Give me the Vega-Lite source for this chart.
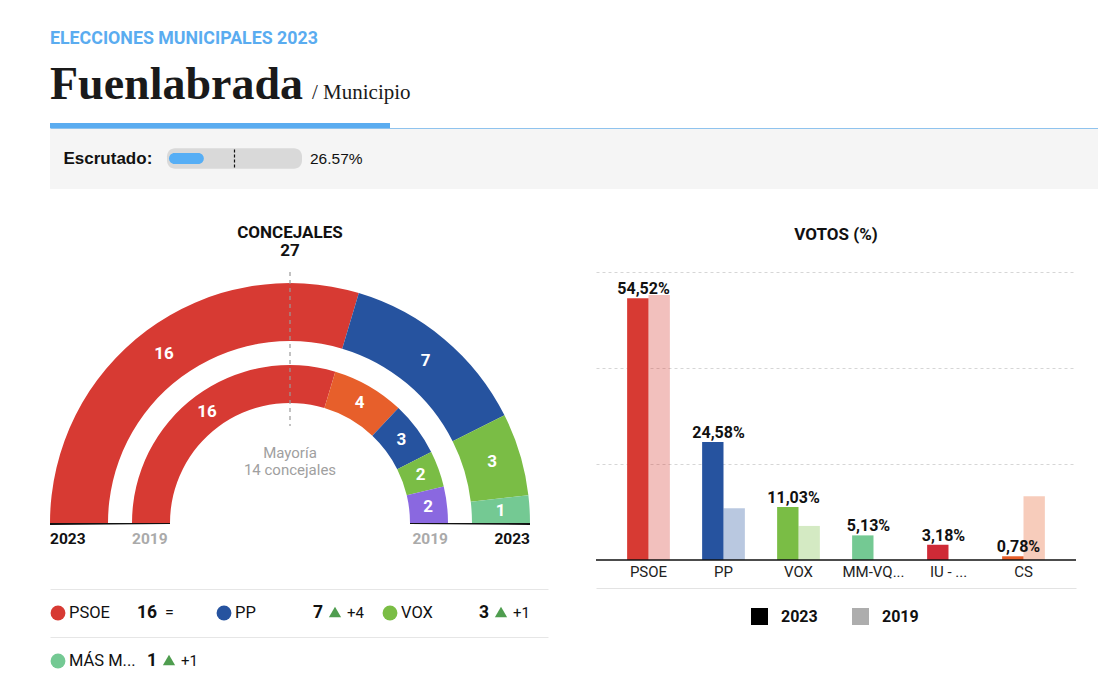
{
  "$schema": "https://vega.github.io/schema/vega-lite/v6.json",
  "background": "#ffffff",
  "padding": {"left": 50, "top": 30, "right": 0, "bottom": 0},
  "config": {
    "view": {"stroke": null},
    "font": "Roboto",
    "axis": {"labelFont": "Roboto", "titleFont": "Roboto"},
    "legend": {"labelFont": "Roboto", "titleFont": "Roboto"},
    "title": {"font": "Roboto", "subtitleFont": "Roboto"}
  },
  "datasets": {
    "seats2023": [
      {"party": "PSOE", "seats": 16, "ord": 1},
      {"party": "PP", "seats": 7, "ord": 2},
      {"party": "VOX", "seats": 3, "ord": 3},
      {"party": "MÁS MADRID", "seats": 1, "ord": 4}
    ],
    "seats2019": [
      {"party": "PSOE", "seats": 16, "ord": 1},
      {"party": "CS", "seats": 4, "ord": 2},
      {"party": "PP", "seats": 3, "ord": 3},
      {"party": "VOX", "seats": 2, "ord": 4},
      {"party": "PODEMOS", "seats": 2, "ord": 5}
    ],
    "years": [{"year": "2023"}, {"year": "2019"}],
    "majority": [{"half": 13.5, "label": "Mayoría\n14 concejales"}],
    "legendRows": [
      {"party": "PSOE", "seats": 16, "change": 0},
      {"party": "PP", "seats": 7, "change": 4},
      {"party": "VOX", "seats": 3, "change": 1},
      {"party": "MÁS MADRID", "seats": 1, "change": 1}
    ],
    "votes": [
      {"party": "PSOE", "year": "2023", "v": 54.52},
      {"party": "PSOE", "year": "2019", "v": 55.2},
      {"party": "PP", "year": "2023", "v": 24.58},
      {"party": "PP", "year": "2019", "v": 10.8},
      {"party": "VOX", "year": "2023", "v": 11.03},
      {"party": "VOX", "year": "2019", "v": 7.1},
      {"party": "MM-VQ...", "year": "2023", "v": 5.13},
      {"party": "IU - ...", "year": "2023", "v": 3.18},
      {"party": "CS", "year": "2023", "v": 0.78},
      {"party": "CS", "year": "2019", "v": 13.3}
    ]
  },
  "title": {"text": "ELECCIONES MUNICIPALES 2023", "anchor": "start", "color": "#5aacf0", "fontSize": 17.8, "fontWeight": "bold", "offset": 14},
  "spacing": 34,
  "vconcat": [
    {
      "spacing": 0,
      "vconcat": [
        {
          "spacing": 0,
          "bounds": "flush",
          "hconcat": [
            {
              "width": 262, "height": 5,
              "title": {"text": "Fuenlabrada", "font": "Liberation Serif", "fontSize": 46, "fontWeight": "bold", "color": "#1a1a1a", "anchor": "start", "baseline": "alphabetic", "offset": -22},
              "view": {"fill": "#5aacf0", "stroke": null},
              "data": {"values": []},
              "mark": "rule",
              "encoding": {}
            },
            {
              "width": 78, "height": 5,
              "title": {"text": "/ Municipio", "font": "Liberation Serif", "fontSize": 21, "fontWeight": "normal", "color": "#1a1a1a", "anchor": "start", "baseline": "alphabetic", "offset": 3},
              "view": {"fill": "#5aacf0", "stroke": null},
              "data": {"values": []},
              "mark": "rule",
              "encoding": {}
            }
          ]
        },
        {
          "width": 1048, "height": 61,
          "view": {"fill": "#f5f5f5", "stroke": null},
          "data": {"values": [{"label": "Escrutado:", "pct": 0.2657, "total": 1}]},
          "resolve": {"scale": {"y": "independent"}, "axis": {"y": "independent"}},
          "layer": [
            {
              "mark": {"type": "bar", "color": "#d9d9d9", "cornerRadius": 8, "xOffset": 2, "x2Offset": -2},
              "encoding": {
                "y": {"field": "label", "type": "nominal", "scale": {"paddingInner": 0, "paddingOuter": 1.2},
                  "axis": {"orient": "left", "title": null, "ticks": false, "domain": false, "labelAlign": "left", "labelPadding": -13, "labelFont": "Liberation Sans", "labelFontSize": 17, "labelFontWeight": "bold", "labelColor": "#111"}},
                "x": {"field": "total", "type": "quantitative", "scale": {"domain": [-0.9084, 7.0916], "nice": false, "zero": false},
                  "axis": {"orient": "top", "domain": true, "domainColor": "#8fc3ee", "domainWidth": 1, "labels": false, "ticks": false, "grid": false, "title": null}},
                "x2": {"datum": 0}
              }
            },
            {
              "mark": {"type": "bar", "color": "#56aef5", "cornerRadius": 5.5, "size": 11},
              "encoding": {"y": {"field": "label", "type": "nominal", "axis": null}, "x": {"field": "pct", "type": "quantitative"}, "x2": {"datum": 0}}
            },
            {
              "mark": {"type": "rule", "color": "#111", "strokeDash": [3, 2], "strokeWidth": 1.2},
              "encoding": {
                "x": {"datum": 0.5, "type": "quantitative"},
                "y": {"field": "total", "type": "quantitative", "scale": {"domain": [-1.194, 2.194], "nice": false, "zero": false}, "axis": null},
                "y2": {"datum": 0}
              }
            },
            {
              "mark": {"type": "text", "align": "left", "baseline": "middle", "dx": 10, "font": "Liberation Sans", "fontSize": 15.5, "color": "#111", "text": {"expr": "format(datum.pct * 100, '.2f') + '%'"}},
              "encoding": {"y": {"field": "label", "type": "nominal", "axis": null}, "x": {"field": "total", "type": "quantitative"}}
            }
          ]
        }
      ]
    },
    {
      "spacing": 65,
      "resolve": {"scale": {"color": "independent", "x": "independent", "y": "independent", "opacity": "independent", "theta": "independent"}},
      "hconcat": [
        {
          "spacing": 41,
          "resolve": {"scale": {"color": "independent", "x": "independent", "y": "independent", "theta": "independent"}},
          "vconcat": [
            {
              "width": 480, "height": 251,
              "title": {"text": ["CONCEJALES", "27"], "fontSize": 17, "fontWeight": "bold", "lineHeight": 18, "anchor": "middle", "offset": 10, "color": "#111"},
              "layer": [
                {
                  "data": {"name": "seats2023"},
                  "mark": {"type": "arc", "radius": 240, "radius2": 182, "y": "height", "stroke": null},
                  "encoding": {
                    "theta": {"field": "seats", "type": "quantitative", "stack": true, "scale": {"domain": [0, 27], "range": [-1.5707963, 1.5707963]}},
                    "order": {"field": "ord", "type": "quantitative"},
                    "color": {"field": "party", "type": "nominal", "scale": {"domain": ["PSOE", "PP", "VOX", "MÁS MADRID", "CS", "PODEMOS"], "range": ["#d73a33", "#26539f", "#7abd45", "#74c993", "#e75f2b", "#8a68e0"]}, "legend": null}
                  }
                },
                {
                  "data": {"name": "seats2023"},
                  "mark": {"type": "text", "radius": 211, "y": "height", "color": "#ffffff", "fontWeight": "bold", "fontSize": 17, "baseline": "middle", "align": "center"},
                  "encoding": {
                    "theta": {"field": "seats", "type": "quantitative", "stack": true},
                    "order": {"field": "ord", "type": "quantitative"},
                    "detail": {"field": "party", "type": "nominal"},
                    "text": {"field": "seats", "type": "quantitative"}
                  }
                },
                {
                  "data": {"name": "seats2019"},
                  "mark": {"type": "arc", "radius": 158, "radius2": 120, "y": "height", "stroke": null},
                  "encoding": {
                    "theta": {"field": "seats", "type": "quantitative", "stack": true},
                    "order": {"field": "ord", "type": "quantitative"},
                    "color": {"field": "party", "type": "nominal", "legend": null}
                  }
                },
                {
                  "data": {"name": "seats2019"},
                  "mark": {"type": "text", "radius": 139, "y": "height", "color": "#ffffff", "fontWeight": "bold", "fontSize": 17, "baseline": "middle", "align": "center"},
                  "encoding": {
                    "theta": {"field": "seats", "type": "quantitative", "stack": true},
                    "order": {"field": "ord", "type": "quantitative"},
                    "detail": {"field": "party", "type": "nominal"},
                    "text": {"field": "seats", "type": "quantitative"}
                  }
                },
                {
                  "data": {"name": "majority"},
                  "mark": {"type": "arc", "radius": 251, "radius2": 97, "y": "height", "fill": null, "stroke": "#9a9a9a", "strokeWidth": 1.2, "strokeDash": [4, 4]},
                  "encoding": {
                    "theta": {"field": "half", "type": "quantitative", "stack": null},
                    "theta2": {"field": "half"}
                  }
                },
                {
                  "data": {"name": "majority"},
                  "mark": {"type": "text", "radius": 70, "y": "height", "lineBreak": "\n", "lineHeight": 17, "color": "#a0a0a0", "fontSize": 15, "baseline": "middle", "align": "center"},
                  "encoding": {
                    "theta": {"field": "half", "type": "quantitative", "stack": null},
                    "text": {"field": "label", "type": "nominal"}
                  }
                },
                {
                  "data": {"name": "years"},
                  "transform": [{"filter": "datum.year == '2023'"}],
                  "mark": {"type": "arc", "radius": 240, "radius2": 120, "y": "height", "color": "#111"},
                  "encoding": {"theta": {"datum": -0.07, "type": "quantitative"}, "theta2": {"datum": 0}}
                },
                {
                  "data": {"name": "years"},
                  "transform": [{"filter": "datum.year == '2023'"}],
                  "mark": {"type": "arc", "radius": 240, "radius2": 120, "y": "height", "color": "#111"},
                  "encoding": {"theta": {"datum": 27, "type": "quantitative"}, "theta2": {"datum": 27.07}}
                },
                {
                  "data": {"name": "years"},
                  "transform": [{"filter": "datum.year == '2023'"}],
                  "mark": {"type": "text", "radius": 240, "y": "height", "align": "left", "baseline": "alphabetic", "dy": 21, "fontWeight": "bold", "fontSize": 15.5, "color": "#111"},
                  "encoding": {"theta": {"datum": 0, "type": "quantitative"}, "text": {"field": "year", "type": "nominal"}}
                },
                {
                  "data": {"name": "years"},
                  "transform": [{"filter": "datum.year == '2023'"}],
                  "mark": {"type": "text", "radius": 240, "y": "height", "align": "right", "baseline": "alphabetic", "dy": 21, "fontWeight": "bold", "fontSize": 15.5, "color": "#111"},
                  "encoding": {"theta": {"datum": 27, "type": "quantitative"}, "text": {"field": "year", "type": "nominal"}}
                },
                {
                  "data": {"name": "years"},
                  "transform": [{"filter": "datum.year == '2019'"}],
                  "mark": {"type": "text", "radius": 158, "y": "height", "align": "left", "baseline": "alphabetic", "dy": 21, "fontWeight": "bold", "fontSize": 15.5, "color": "#aaaaaa"},
                  "encoding": {"theta": {"datum": 0, "type": "quantitative"}, "text": {"field": "year", "type": "nominal"}}
                },
                {
                  "data": {"name": "years"},
                  "transform": [{"filter": "datum.year == '2019'"}],
                  "mark": {"type": "text", "radius": 158, "y": "height", "align": "right", "baseline": "alphabetic", "dy": 21, "fontWeight": "bold", "fontSize": 15.5, "color": "#aaaaaa"},
                  "encoding": {"theta": {"datum": 27, "type": "quantitative"}, "text": {"field": "year", "type": "nominal"}}
                }
              ]
            },
            {
              "width": 480, "height": 96,
              "data": {"name": "legendRows"},
              "transform": [
                {"window": [{"op": "row_number", "as": "rank"}]},
                {"calculate": "(datum.rank - 1) % 3", "as": "col"},
                {"calculate": "floor((datum.rank - 1) / 3)", "as": "row"}
              ],
              "encoding": {
                "x": {"field": "col", "type": "ordinal", "scale": {"range": [0, 498], "paddingInner": 0, "paddingOuter": 0}, "axis": null},
                "y": {"field": "row", "type": "ordinal", "scale": {"paddingInner": 0, "paddingOuter": 0},
                  "axis": {"grid": true, "gridColor": "#e6e6e6", "tickBand": "extent", "labels": false, "ticks": false, "domain": false, "title": null}}
              },
              "layer": [
                {
                  "mark": {"type": "circle", "size": 220, "opacity": 1, "xOffset": -75},
                  "encoding": {"color": {"field": "party", "type": "nominal", "scale": {"domain": ["PSOE", "PP", "VOX", "MÁS MADRID", "CS", "PODEMOS"], "range": ["#d73a33", "#26539f", "#7abd45", "#74c993", "#e75f2b", "#8a68e0"]}, "legend": null}}
                },
                {
                  "mark": {"type": "text", "align": "left", "baseline": "middle", "dx": -64, "fontSize": 16.5, "color": "#111", "limit": 73, "ellipsis": "..."},
                  "encoding": {"text": {"field": "party", "type": "nominal"}}
                },
                {
                  "mark": {"type": "text", "align": "right", "baseline": "middle", "dx": 24, "fontSize": 17.5, "fontWeight": "bold", "color": "#111"},
                  "encoding": {"text": {"field": "seats", "type": "quantitative"}}
                },
                {
                  "transform": [{"filter": "datum.change == 0"}],
                  "mark": {"type": "text", "align": "left", "baseline": "middle", "dx": 32, "fontSize": 16, "color": "#111", "text": "="},
                  "encoding": {}
                },
                {
                  "transform": [{"filter": "datum.change > 0"}],
                  "mark": {"type": "point", "shape": "triangle-up", "filled": true, "size": 150, "color": "#4f9d4f", "opacity": 1, "xOffset": 36, "yOffset": -1},
                  "encoding": {}
                },
                {
                  "transform": [{"filter": "datum.change > 0"}],
                  "mark": {"type": "text", "align": "left", "baseline": "middle", "dx": 48, "fontSize": 15, "color": "#111", "text": {"expr": "'+' + datum.change"}},
                  "encoding": {}
                }
              ]
            }
          ]
        },
        {
          "width": 480, "height": 316,
          "title": {"text": ["VOTOS (%)", " "], "fontSize": 17, "fontWeight": "bold", "lineHeight": 18, "anchor": "middle", "offset": 10, "color": "#111"},
          "data": {"name": "votes"},
          "layer": [
            {
              "mark": {"type": "bar"},
              "encoding": {
                "x": {"field": "party", "type": "nominal", "sort": null, "scale": {"paddingInner": 0.43, "paddingOuter": 0.415},
                  "axis": {"title": null, "ticks": false, "domain": true, "domainColor": "#e3e3e3", "domainWidth": 1, "labelAngle": 0, "labelFontSize": 15, "labelColor": "#222", "labelPadding": -24}},
                "xOffset": {"field": "year", "type": "nominal", "sort": ["2023", "2019"], "scale": {"paddingInner": 0, "paddingOuter": 0}},
                "y": {"field": "v", "type": "quantitative", "scale": {"domain": [-5.83, 60], "nice": false, "zero": false},
                  "axis": {"title": null, "labels": false, "ticks": false, "domain": false, "values": [20, 40, 60], "grid": true, "gridColor": "#d6d6d6", "gridDash": [3, 3]}},
                "color": {"field": "party", "type": "nominal", "scale": {"domain": ["PSOE", "PP", "VOX", "MM-VQ...", "IU - ...", "CS"], "range": ["#d73a33", "#26539f", "#7abd45", "#74c993", "#cf2a36", "#e75f2b"]}, "legend": null},
                "opacity": {"field": "year", "type": "nominal", "sort": ["2023", "2019"], "scale": {"domain": ["2023", "2019"], "range": [1, 0.32]},
                  "legend": {"orient": "none", "legendX": 155, "legendY": 336, "direction": "horizontal", "title": null, "symbolType": "square", "symbolSize": 289, "symbolFillColor": "#000", "symbolStrokeWidth": 0, "labelFontSize": 16, "labelFontWeight": "bold", "labelColor": "#111", "labelOffset": 13, "columnPadding": 34}}
              }
            },
            {
              "transform": [{"aggregate": [{"op": "count", "as": "n"}]}],
              "mark": {"type": "rule", "color": "#111", "strokeWidth": 1.5},
              "encoding": {"y": {"datum": 0, "type": "quantitative"}}
            },
            {
              "transform": [{"filter": "datum.year == '2023'"}],
              "mark": {"type": "text", "baseline": "alphabetic", "dy": -4, "dx": -5, "fontWeight": "bold", "fontSize": 16, "color": "#111", "text": {"expr": "replace(format(datum.v, '.2f'), '.', ',') + '%'"}},
              "encoding": {
                "x": {"field": "party", "type": "nominal", "sort": null},
                "y": {"field": "v", "type": "quantitative"}
              }
            }
          ]
        }
      ]
    }
  ]
}
